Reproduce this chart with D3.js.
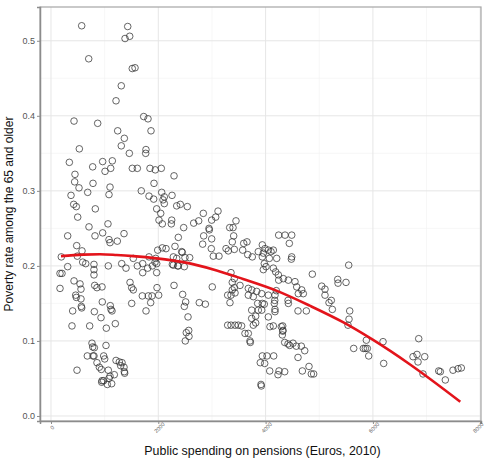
<!DOCTYPE html>
<html><head><meta charset="utf-8">
<script src="https://cdn.jsdelivr.net/npm/d3@7"></script>
<style>body{margin:0;background:#fff}svg{display:block}text{font-family:"Liberation Sans",Arial,Helvetica,sans-serif}</style>
</head><body><svg id="c" width="486" height="458"></svg>
<script>
const spending = [572,703,1430,1380,1467,1515,1566,1310,1212,429,870,1728,1808,1864,1243,1367,1310,528,1770,1765,1460,342,777,963,1007,1113,1143,1516,1609,1845,1944,2056,2293,447,441,522,783,1100,1081,373,684,1683,1920,1827,1914,2063,2112,2256,2088,2112,1970,2045,2343,2410,2541,423,472,826,498,1062,708,2013,2075,2250,2243,2473,2660,2753,2839,2945,2995,3070,3113,3331,3448,3393,
311,820,963,1081,1100,1236,1361,479,578,490,591,647,192,311,168,205,168,801,801,801,1068,1318,1398,1534,1609,1709,1709,1802,1827,1889,1939,1951,1970,1970,1976,2075,2144,2311,2373,2447,2497,2585,2262,2361,2485,2293,2454,2510,2485,2554,2567,2522,2572,2503,429,541,559,460,472,559,572,565,404,391,814,857,951,956,1105,1118,1137,808,932,721,1031,1199,1473,1504,1534,1504,1702,1814,1883,1771,1858,2007,764,777,808,677,783,801,1025,857,901,982,1001,938,951,945,982,1050,1131,1081,1100,1068,1180,1212,1273,1299,1361,1367,1373,1324,485,
2951,2846,2995,2827,2988,3025,3131,3262,3305,3417,3379,3405,2436,1989,2281,2343,2281,2373,3355,3417,2764,2877,3006,3293,3355,3336,3379,3417,3430,3379,3293,3355,3430,3491,3553,
4244,4362,4487,4442,3592,3653,3573,3667,3752,3939,3989,3864,3958,4051,4101,4144,3939,4070,4207,3976,4008,3958,4144,4188,4238,4244,4331,4424,4487,4871,5046,5107,5107,4548,4580,4673,4703,4610,3678,3741,3834,3927,4051,4175,3678,3771,3523,
4480,5549,5344,5350,5499,5225,5182,5244,4604,4759,5568,5555,5536,5642,5822,5859,5896,5922,5878,6189,6201,6854,6748,6822,6841,6966,7227,7257,7350,7493,7587,7648,6934,3939,4026,4151,3901,3983,4077,4250,4356,4231,3920,3914,4293,4325,4312,4356,4418,4449,4511,4573,4666,4729,4604,4809,4852,4896,4685,4082,
3616,3678,3709,3715,3741,3771,3815,3815,3864,3927,3852,3939,3976,3741,4051,4163,4175,4175,4144,4319,4319,4424,4200,4170,4418];
const poverty = [0.52,0.476,0.519,0.503,0.506,0.463,0.464,0.44,0.42,0.393,0.39,0.399,0.396,0.38,0.38,0.37,0.36,0.356,0.355,0.35,0.35,0.338,0.332,0.339,0.326,0.33,0.34,0.33,0.33,0.33,0.328,0.33,0.32,0.322,0.312,0.304,0.31,0.305,0.295,0.294,0.298,0.30,0.31,0.293,0.289,0.298,0.292,0.294,0.288,0.283,0.276,0.27,0.28,0.282,0.279,0.282,0.279,0.276,0.265,0.256,0.252,0.261,0.256,0.261,0.256,0.251,0.257,0.26,0.27,0.25,0.261,0.265,0.273,0.251,0.26,0.251,
0.24,0.24,0.244,0.235,0.231,0.233,0.243,0.227,0.22,0.213,0.205,0.203,0.212,0.199,0.19,0.19,0.17,0.202,0.195,0.188,0.2,0.203,0.197,0.21,0.2,0.203,0.191,0.197,0.212,0.2,0.205,0.21,0.203,0.191,0.171,0.224,0.223,0.226,0.238,0.218,0.211,0.211,0.202,0.2,0.199,0.174,0.162,0.152,0.146,0.132,0.114,0.111,0.106,0.1,0.18,0.176,0.169,0.161,0.158,0.156,0.144,0.146,0.14,0.12,0.174,0.171,0.172,0.152,0.147,0.142,0.14,0.139,0.131,0.12,0.117,0.123,0.178,0.171,0.168,0.15,0.16,0.16,0.16,0.14,0.151,0.161,0.097,0.092,0.091,0.08,0.08,0.08,0.094,0.071,0.065,0.08,0.076,0.062,0.047,0.045,0.047,0.042,0.043,0.05,0.053,0.061,0.055,0.074,0.072,0.067,0.065,0.059,0.057,0.071,0.061,
0.248,0.24,0.236,0.229,0.223,0.213,0.213,0.223,0.22,0.222,0.232,0.24,0.219,0.221,0.212,0.21,0.201,0.2,0.191,0.183,0.151,0.149,0.172,0.161,0.161,0.151,0.178,0.171,0.164,0.168,0.121,0.121,0.121,0.121,0.12,
0.241,0.241,0.241,0.23,0.23,0.232,0.221,0.215,0.212,0.228,0.223,0.219,0.217,0.221,0.219,0.221,0.212,0.21,0.21,0.203,0.199,0.195,0.197,0.192,0.188,0.181,0.183,0.181,0.212,0.189,0.173,0.169,0.161,0.179,0.172,0.168,0.163,0.163,0.17,0.168,0.166,0.163,0.161,0.161,0.161,0.159,0.174,
0.209,0.201,0.182,0.177,0.178,0.154,0.151,0.142,0.14,0.14,0.14,0.129,0.121,0.09,0.09,0.09,0.09,0.08,0.101,0.099,0.07,0.103,0.079,0.082,0.072,0.079,0.06,0.059,0.048,0.061,0.063,0.064,0.056,0.08,0.08,0.08,0.071,0.07,0.06,0.06,0.059,0.055,0.04,0.042,0.119,0.114,0.108,0.098,0.096,0.094,0.097,0.093,0.093,0.087,0.078,0.066,0.056,0.056,0.06,0.119,
0.11,0.11,0.1,0.098,0.13,0.121,0.124,0.133,0.141,0.141,0.15,0.15,0.149,0.141,0.132,0.15,0.142,0.139,0.12,0.12,0.113,0.15,0.167,0.154,0.154];
const fitX = [186,602,913,1224,1534,1970,2466,3088,3579,4200,4822,5443,5989,6686,7629];
const fitY = [0.213,0.215,0.2155,0.2145,0.213,0.21,0.205,0.194,0.1825,0.167,0.147,0.125,0.102,0.069,0.019];
const xTicks = [0,2000,4000,6000,8000];
const xMinor = [1000,3000,5000,7000];
const yTicks = [0,0.1,0.2,0.3,0.4,0.5];
const yMinor = [0.05,0.15,0.25,0.35,0.45];
const xTitle = "Public spending on pensions (Euros, 2010)";
const yTitle = "Poverty rate among the 65 and older";

const svg = d3.select("#c");
const L=40,R=481,T=7,B=421;
const x = d3.scaleLinear().domain([-205,8015]).range([L,R]);
const y = d3.scaleLinear().domain([-0.0067,0.545]).range([B,T]);

const grid = svg.append("g");
grid.selectAll(".xm").data(xMinor).enter().append("line").attr("x1",d=>x(d)).attr("x2",d=>x(d)).attr("y1",T).attr("y2",B).attr("stroke","#f2f2f2").attr("stroke-width",0.6);
grid.selectAll(".ym").data(yMinor).enter().append("line").attr("y1",d=>y(d)).attr("y2",d=>y(d)).attr("x1",L).attr("x2",R).attr("stroke","#f2f2f2").attr("stroke-width",0.6);
grid.selectAll(".xM").data(xTicks).enter().append("line").attr("x1",d=>x(d)).attr("x2",d=>x(d)).attr("y1",T).attr("y2",B).attr("stroke","#e6e6e6").attr("stroke-width",1);
grid.selectAll(".yM").data(yTicks).enter().append("line").attr("y1",d=>y(d)).attr("y2",d=>y(d)).attr("x1",L).attr("x2",R).attr("stroke","#e6e6e6").attr("stroke-width",1);

svg.append("rect").attr("x",L).attr("y",T).attr("width",R-L).attr("height",B-T).attr("fill","none").attr("stroke","#a6a6a6").attr("stroke-width",1.2);

const pts = spending.map((s,i)=>({s, p:poverty[i]}));
svg.append("g").selectAll("circle").data(pts).enter().append("circle")
  .attr("cx",d=>x(d.s)).attr("cy",d=>y(d.p)).attr("r",3.3)
  .attr("fill","none").attr("stroke","#333").attr("stroke-width",0.75);

const fit = fitX.map((v,i)=>[v,fitY[i]]);
svg.append("path").datum(fit)
  .attr("d",d3.line().x(d=>x(d[0])).y(d=>y(d[1])).curve(d3.curveMonotoneX))
  .attr("fill","none").attr("stroke","#e3141b").attr("stroke-width",2.6);

// axes
const ax = svg.append("g").attr("transform",`translate(0,${B})`)
  .call(d3.axisBottom(x).tickValues(xTicks).tickSize(3).tickFormat(d3.format("d")));
ax.select(".domain").attr("stroke","#8c8c8c").attr("stroke-width",1.5);
ax.selectAll(".tick line").attr("stroke","#8c8c8c");
ax.selectAll(".tick text").attr("fill","#555").attr("font-size",5.5)
  .attr("text-anchor","middle").attr("y",0).attr("dy",0)
  .attr("transform",(d,i)=>`translate(${i===xTicks.length-1?-1:2},8) rotate(-45)`);

const ay = svg.append("g").attr("transform",`translate(${L},0)`)
  .call(d3.axisLeft(y).tickValues(yTicks).tickSize(3).tickFormat(d3.format(".1f")));
ay.select(".domain").attr("stroke","#8c8c8c").attr("stroke-width",1.5);
ay.selectAll(".tick line").attr("stroke","#8c8c8c");
ay.selectAll(".tick text").attr("fill","#555").attr("font-size",9).attr("x",-5);

svg.append("text").attr("x",(L+R)/2+2).attr("y",455).attr("text-anchor","middle")
  .attr("font-size",12.4).attr("fill","#111").text(xTitle);
svg.append("text").attr("transform",`translate(13,${(T+B)/2}) rotate(-90)`).attr("text-anchor","middle")
  .attr("font-size",12).attr("fill","#111").text(yTitle);
</script></body></html>
